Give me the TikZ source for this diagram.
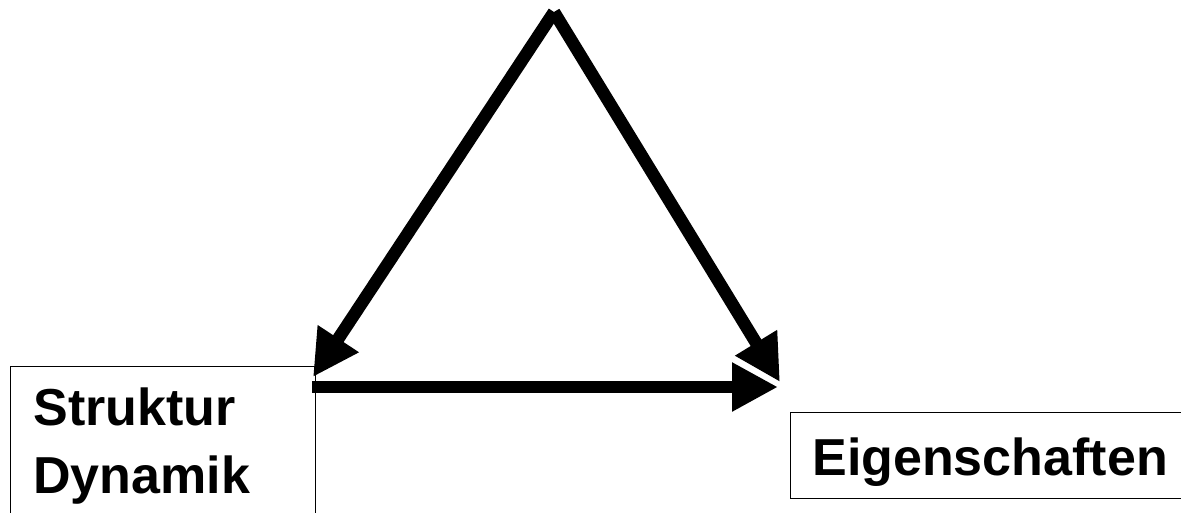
\documentclass[tikz,border=0pt]{standalone}
\usepackage{fontspec}
\setmainfont{Liberation Sans}
\usetikzlibrary{arrows.meta}
\begin{document}
\begin{tikzpicture}[x=0.02cm,y=-0.02cm,
  >={Triangle[length=0.92cm,width=0.92cm]},
  bx/.style={draw,line width=0.6pt,inner sep=0pt,anchor=north west},
  lb/.style={font=\bfseries\fontsize{29.6}{38.7}\selectfont,align=left,inner sep=0pt,anchor=base west},
  ar/.style={->,line width=0.25cm}]
  \useasboundingbox (0,0) rectangle (1181,512);
  \node[bx,minimum width=6.1cm,minimum height=3.5cm] (sbox) at (10,366) {};
  \node[bx,minimum width=8cm,minimum height=1.72cm] (ebox) at (790,412) {};
  \node[lb] (struk) at (33,493) {Struktur\\Dynamik};
  \node[lb] (eig)   at (812,475) {Eigenschaften};
  \coordinate (top)  at (554,12);
  \coordinate (tipl) at (313,377);
  \coordinate (tipr) at (780,382);
  \coordinate (barl) at (312,387);
  \coordinate (barr) at (778,387);
  \draw[ar] (top) -- (tipl);
  \draw[ar] (top) -- (tipr);
  \draw[ar] (barl) -- (barr);
\end{tikzpicture}
\end{document}
